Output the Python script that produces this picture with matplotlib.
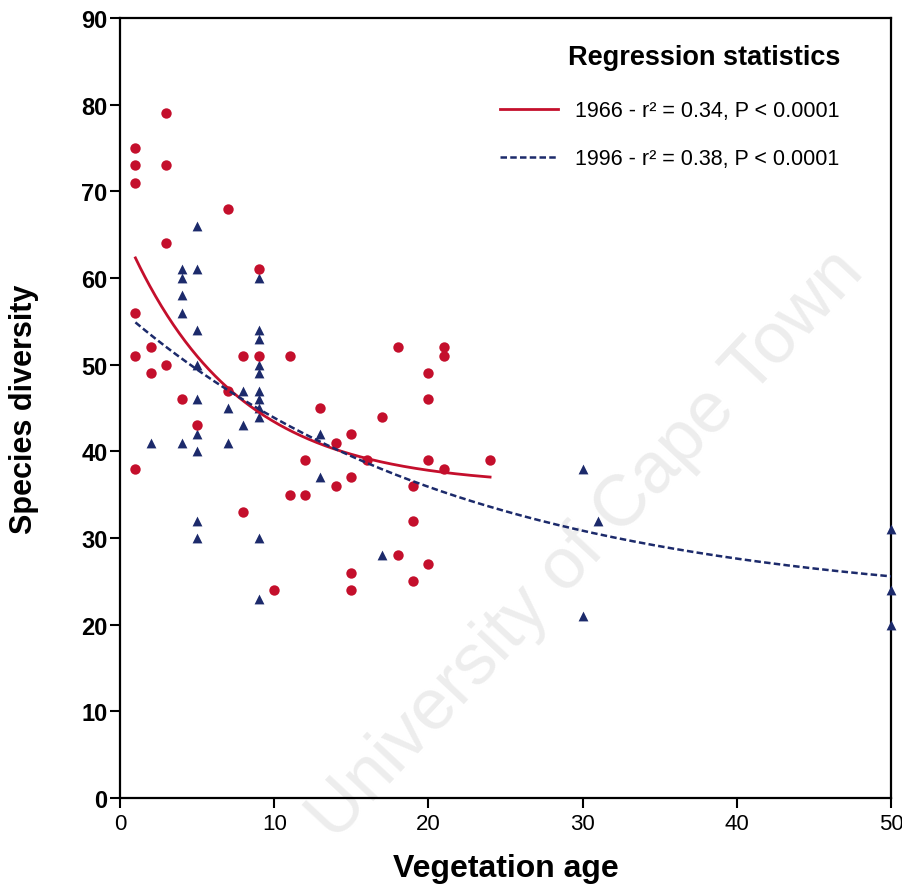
#!/usr/bin/env python3
"""Species diversity vs vegetation age, 1966 and 1996 surveys with fitted curves."""

import matplotlib
matplotlib.use("Agg")
import matplotlib.pyplot as plt
import numpy as np

plt.rcParams["font.family"] = ["Liberation Sans", "DejaVu Sans"]

# 1966 survey (red circles)
age_1966 = [1, 1, 1, 3, 3, 7, 3, 9, 1, 2, 1, 3, 2, 8, 9, 11, 7, 4, 5, 1,
            18, 21, 21, 20, 20, 13, 17, 15, 14, 16, 20, 21, 24, 12, 15, 14,
            11, 12, 19, 19, 18, 20, 19, 15, 15, 10, 8]
div_1966 = [75, 73, 71, 79, 73, 68, 64, 61, 56, 52, 51, 50, 49, 51, 51, 51,
            47, 46, 43, 38, 52, 52, 51, 49, 46, 45, 44, 42, 41, 39, 39, 38,
            39, 39, 37, 36, 35, 35, 36, 32, 28, 27, 25, 26, 24, 24, 33]

# 1996 survey (blue triangles)
age_1996 = [5, 4, 4, 5, 9, 4, 4, 5, 9, 9, 9, 9, 9, 9, 9, 9, 5, 5, 7, 8, 8,
            5, 5, 4, 2, 7, 5, 5, 9, 9, 13, 17, 13, 30, 31, 30, 50, 50, 50]
div_1996 = [66, 61, 60, 61, 60, 58, 56, 54, 54, 53, 50, 49, 47, 46, 45, 44,
            50, 46, 45, 47, 43, 42, 40, 41, 41, 41, 32, 30, 30, 23, 37, 28,
            42, 38, 32, 21, 31, 24, 20]

# fitted curves: y = c + a * exp(-k * x)
fit_1966 = {"c": 36.0, "a": 30.3, "k": 0.141, "x_range": (1, 24)}
fit_1996 = {"c": 22.0, "a": 34.4, "k": 0.0453, "x_range": (1, 50)}

labels = ["1966 - r\u00b2 = 0.34, P < 0.0001", "1996 - r\u00b2 = 0.38, P < 0.0001"]

RED = "#c40f2c"
BLUE = "#1c2a6b"


def curve(fit):
    x = np.linspace(*fit["x_range"], 300)
    return x, fit["c"] + fit["a"] * np.exp(-fit["k"] * x)


fig = plt.figure(figsize=(9.03, 8.95), dpi=100)
ax = fig.add_axes([0.1329, 0.1073, 0.8538, 0.8715])
ax.set_zorder(1)
ax.set_facecolor("none")

# faint watermark, kept behind the axes
fig.text(0.65, 0.39, "University of Cape Town", rotation=47, fontsize=52,
         color="#ededed", ha="center", va="center", zorder=0)

ax.scatter(age_1996, div_1996, marker="^", s=50, color=BLUE, zorder=3,
           clip_on=False, linewidths=0)
ax.scatter(age_1966, div_1966, marker="o", s=56, color=RED, zorder=4,
           clip_on=False, linewidths=0)

x, y = curve(fit_1966)
ax.plot(x, y, color=RED, lw=2.0, zorder=5, label=labels[0])
x, y = curve(fit_1996)
ax.plot(x, y, color=BLUE, lw=1.8, ls=(0, (2.6, 1.3)), zorder=5, label=labels[1])

ax.set_xlim(0, 50)
ax.set_ylim(0, 90)
ax.set_xticks(range(0, 51, 10))
ax.set_yticks(range(0, 91, 10))
ax.tick_params(direction="out", length=7, width=1.5, top=False, right=False)
ax.tick_params(axis="y", pad=2)
for lbl in ax.get_yticklabels():
    lbl.set_fontsize(17)
    lbl.set_fontweight("bold")
for lbl in ax.get_xticklabels():
    lbl.set_fontsize(16)
for sp in ax.spines.values():
    sp.set_linewidth(1.6)

ax.set_xlabel("Vegetation age", fontsize=23, fontweight="bold", labelpad=14)
ax.set_ylabel("Species diversity", fontsize=22, fontweight="bold", labelpad=30)

leg = ax.legend(loc="upper right", bbox_to_anchor=(0.945, 0.978), borderaxespad=0,
                frameon=False, title="Regression statistics", fontsize=15.5,
                handlelength=2.7, handletextpad=0.8, labelspacing=1.25,
                alignment="right")
leg.get_title().set_fontweight("bold")
leg.get_title().set_fontsize(19.5)
leg._legend_box.sep = 22

fig.savefig("out.png", dpi=100)
